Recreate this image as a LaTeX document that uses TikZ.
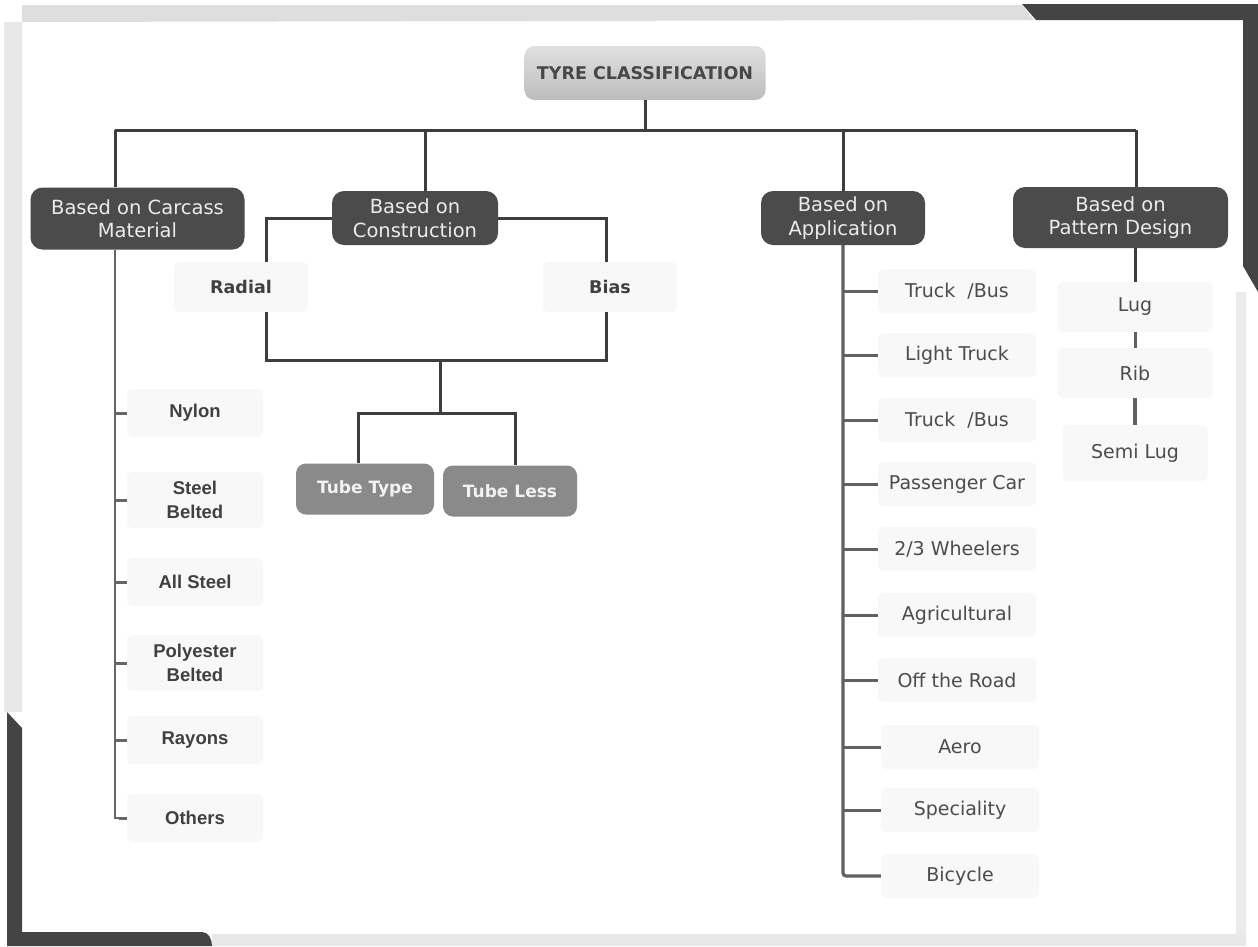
\documentclass[tikz,border=0pt]{standalone}
\usepackage{fontspec}
\setmainfont{DejaVu Sans}
\newfontfamily\arialf{Liberation Sans}
\definecolor{boxdark}{HTML}{4B4B4B}
\definecolor{linedark}{HTML}{3E3E3E}
\definecolor{labelgray}{HTML}{4C4C4C}
\definecolor{tubegray}{HTML}{8A8A8A}
\definecolor{framedark}{HTML}{444444}
\definecolor{framelight}{HTML}{DEDEDE}
\definecolor{leaffill}{HTML}{F8F8F8}
\begin{document}
\begin{tikzpicture}[x=1pt,y=-1pt,
  conn/.style={draw=linedark, line width=3pt},
  thinconn/.style={draw=black!60, line width=2.2pt},
  cat/.style={rounded corners=12pt, fill=boxdark, text=white!92!black, align=center,
    font=\fontsize{19.5}{23.5}\selectfont, inner sep=0pt},
  rootbox/.style={rounded corners=10pt, top color=black!12, bottom color=black!26,
    text=black!72, font=\bfseries\fontsize{17.5}{20}\selectfont, inner sep=0pt},
  tubebox/.style={rounded corners=10pt, fill=tubegray, text=white!95!black,
    font=\bfseries\fontsize{17}{20}\selectfont, inner sep=0pt},
  leafbase/.style={fill=leaffill, rounded corners=6pt, inner sep=0pt, align=center},
  matleaf/.style={leafbase, text=black!75, font=\arialf\bfseries\fontsize{18.5}{24.5}\selectfont,
    minimum width=136pt, minimum height=48pt},
  appleaf/.style={leafbase, text=labelgray, font=\fontsize{19}{23}\selectfont,
    minimum width=158pt, minimum height=44pt},
  patleaf/.style={leafbase, text=labelgray, font=\fontsize{19}{23}\selectfont,
    minimum width=155pt},
  conleaf/.style={leafbase, text=black!75, font=\bfseries\fontsize{17.5}{21}\selectfont,
    minimum width=134pt, minimum height=50pt}
]
\useasboundingbox (0,0) rectangle (1258,946);
\fill[white] (0,0) rectangle (1258,946);
% page edges (scan)
\fill[framelight] (22,5) -- (1022,5) -- (1034,20) -- (22,22) -- cycle;
\fill[framelight!70!white] (4,22) rectangle (22,712);
\fill[framelight!70!white] (212,934) rectangle (1246,946);
\fill[framelight!60!white] (1236,292) rectangle (1246,934);
\fill[framedark] (1022,4) -- (1258,4) -- (1258,292) -- (1243,266) -- (1243,20) -- (1036,20) -- cycle;
\fill[framedark] (7,712) -- (22,728) -- (22,932) -- (202,932) to[out=0,in=90] (212,946) -- (7,946) -- cycle;

% root and categories
\node[rootbox, minimum width=241pt, minimum height=54pt] (root) at (645,73) {TYRE CLASSIFICATION};
\node[cat, minimum width=214pt, minimum height=62pt] (carcass) at (137.5,218.5) {Based on Carcass\\Material};
\node[cat, minimum width=166pt, minimum height=54pt] (construction) at (415,218) {Based on\\Construction};
\node[cat, minimum width=164pt, minimum height=54pt] (application) at (843,218) {Based on\\Application};
\node[cat, minimum width=215pt, minimum height=61pt] (pattern) at (1120.5,217.5) {Based on\\Pattern Design};

\coordinate (busL) at (115,130);
\coordinate (busC) at (425,130);
\coordinate (busR) at (1136,130);
\draw[conn] (root.south) -- (root.south |- busL);
\draw[conn] (busL) -- (busR);
\draw[conn] (busL) -- (busL |- carcass.north);
\draw[conn] (busC) -- (busC |- construction.north);
\draw[conn] (application.north |- busL) -- (application.north);
\draw[conn] (busR) -- (busR |- pattern.north);

% construction branch
\node[conleaf] (radial) at (241,287) {Radial};
\node[conleaf] (bias) at (610,287) {Bias};
\coordinate (radx) at (266,360);
\coordinate (biasx) at (606,360);
\coordinate (stemtop) at (440,360);
\coordinate (stembot) at (440,413);
\draw[conn] (construction.west) -| (radial.north -| radx);
\draw[conn] (construction.east) -| (bias.north -| biasx);
\draw[conn] (radial.south -| radx) -- (radx) -- (biasx) -- (bias.south -| biasx);
\draw[conn] (stemtop) -- (stembot);
\node[tubebox, minimum width=138pt, minimum height=51pt] (tubetype) at (365,489) {Tube Type};
\node[tubebox, minimum width=134pt, minimum height=51pt] (tubeless) at (510,491) {Tube Less};
\draw[conn] (tubetype.north -| 358,0) |- (stembot) -| (tubeless.north -| 515,0);

% carcass material branch
\node[matleaf] (nylon) at (195,413) {Nylon};
\node[matleaf, minimum height=56pt] (steel) at (195,500) {Steel\\Belted};
\node[matleaf] (allsteel) at (195,582) {All Steel};
\node[matleaf, minimum height=56pt] (poly) at (195,663) {Polyester\\Belted};
\node[matleaf] (rayons) at (195,740) {Rayons};
\node[matleaf] (others) at (195,818) {Others};
\coordinate (cs) at (115,250);
\draw[thinconn] (cs) |- (others.west);
\foreach \n in {nylon,steel,allsteel,poly,rayons}
  \draw[thinconn, line width=3pt] (cs |- \n.west) -- (\n.west);
\draw[thinconn, line width=3pt] ([xshift=-8pt]others.west) -- (others.west);

% application branch
\node[appleaf] (tb1) at (957,291) {Truck\ \ /Bus};
\node[appleaf] (lt) at (957,355) {Light Truck};
\node[appleaf] (tb2) at (957,420) {Truck\ \ /Bus};
\node[appleaf] (pc) at (957,484) {Passenger Car};
\node[appleaf] (wh) at (957,549) {2/3 Wheelers};
\node[appleaf] (ag) at (957,615) {Agricultural};
\node[appleaf] (otr) at (957,680) {Off the Road};
\node[appleaf] (aero) at (960,747) {Aero};
\node[appleaf] (spec) at (960,810) {Speciality};
\node[appleaf] (bic) at (960,876) {Bicycle};
\draw[conn, draw=black!62, line width=3.2pt, rounded corners=3pt] (application.south) |- (bic.west);
\foreach \n in {tb1,lt,tb2,pc,wh,ag,otr,aero,spec}
  \draw[conn, draw=black!62] (application.south |- \n.west) -- (\n.west);

% pattern design branch
\node[patleaf, minimum height=50pt] (lug) at (1135,307) {Lug};
\node[patleaf, minimum height=50pt] (rib) at (1135,373) {Rib};
\node[patleaf, minimum height=56pt, minimum width=145pt] (semilug) at (1135,453) {Semi Lug};
\draw[conn] (pattern.south -| lug) -- (lug.north);
\draw[conn, draw=black!62, line width=3pt] (lug) -- (rib);
\draw[conn, draw=black!62, line width=3.5pt] (rib) -- (semilug);
\end{tikzpicture}
\end{document}
